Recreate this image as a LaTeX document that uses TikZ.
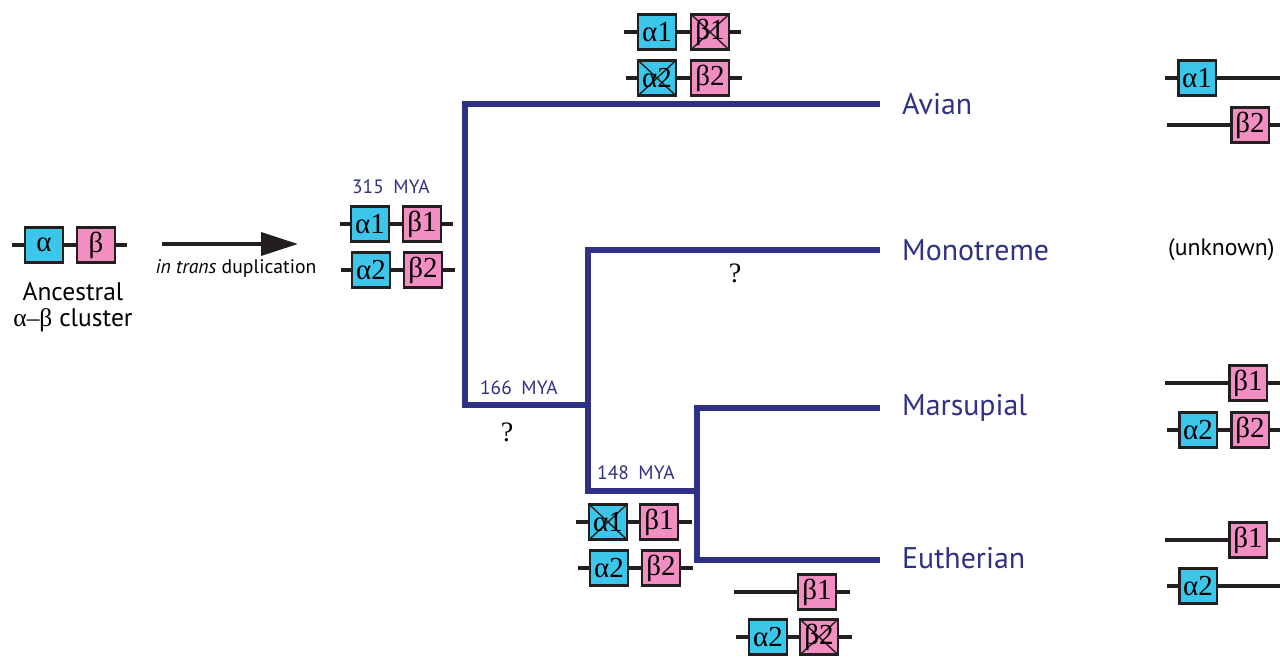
\documentclass[tikz,border=0pt]{standalone}
\usepackage{fontspec}
\setmainfont{PT Sans}
\newfontfamily\grk{Liberation Serif}
\usetikzlibrary{arrows.meta}
\definecolor{navy}{HTML}{2E3184}
\definecolor{alphab}{HTML}{3CC6EA}
\definecolor{betab}{HTML}{F28EC1}
\definecolor{linie}{HTML}{231F20}
\tikzset{
  ast/.style={navy,line width=3.9pt,line join=miter},
  chrom/.style={linie,line width=2.3pt},
  gena/.style={draw=linie,fill=alphab,line width=1.4pt,minimum width=0.75cm,
    minimum height=0.7cm,inner sep=0pt,font=\grk\fontsize{16.5}{16.5}\selectfont},
  genb/.style={gena,fill=betab},
  weg/.style={path picture={\draw[linie,line width=0.8pt]
    (path picture bounding box.south west) -- (path picture bounding box.north east)
    (path picture bounding box.north west) -- (path picture bounding box.south east);}},
  taxon/.style={navy,anchor=west,font=\fontsize{17}{17}\selectfont},
  mya/.style={navy,anchor=west,font=\fontsize{11}{11}\selectfont},
  frage/.style={font=\grk\fontsize{16}{16}\selectfont},
  pfeil/.style={-{Triangle[length=21pt,width=13pt]},linie,line width=2.3pt},
}

\begin{document}
\begin{tikzpicture}[x=0.02cm,y=-0.02cm]
  \useasboundingbox (0,0) rectangle (1280,656);
  % --- Vorfahr ---
  \node[gena] (anc-a) at (44,245) {α};
  \node[genb] (anc-b) at (96,245) {β};
  \coordinate (anc-l) at (12,245);
  \coordinate (anc-r) at (127,245);
  \draw[chrom] (anc-l) -- (anc-a) (anc-a) -- (anc-b) (anc-b) -- (anc-r);
  \node[align=center,font=\fontsize{14.5}{14.5}\selectfont] (anc-t) at (73,307)
    {Ancestral\\{\grk α–β} cluster};
  % --- Duplikation ---
  \coordinate (dup-s) at (162,244);
  \coordinate (dup-e) at (298,244);
  \draw[pfeil] (dup-s) -- (dup-e);
  \node[font=\fontsize{11.2}{11.2}\selectfont] (dup-t) at (236,268) {\textit{in trans} duplication};
  % --- 315 MYA ---
  \node[mya] (t315) at (346,187) {315\enspace MYA};
  \node[gena] (d-a1) at (370,224) {α1};
  \node[genb] (d-b1) at (422,224) {β1};
  \coordinate (d-l1) at (340,224);
  \coordinate (d-r1) at (453,224);
  \draw[chrom] (d-l1) -- (d-a1) (d-a1) -- (d-b1) (d-b1) -- (d-r1);
  \node[gena] (d-a2) at (371,270) {α2};
  \node[genb] (d-b2) at (423,270) {β2};
  \coordinate (d-l2) at (341,270);
  \coordinate (d-r2) at (455,270);
  \draw[chrom] (d-l2) -- (d-a2) (d-a2) -- (d-b2) (d-b2) -- (d-r2);
  % --- Baum ---
  \coordinate (t-av) at (880,104);
  \coordinate (t-mo) at (880,250);
  \coordinate (t-ma) at (880,408);
  \coordinate (t-eu) at (880,560);
  \coordinate (w1) at (465,405);
  \coordinate (w2) at (588,405);
  \coordinate (w3) at (588,491);
  \coordinate (w4) at (697,491);
  \draw[ast] (t-av) -| (w1) -- (w2);
  \draw[ast] (t-mo) -| (w3) -- (w4);
  \draw[ast] (t-ma) -| (w4) |- (t-eu);
  \node[taxon] (avian) at (896,104) {Avian};
  \node[taxon] (mono) at (896,250) {Monotreme};
  \node[taxon] (mars) at (896,408) {Marsupial};
  \node[taxon] (euth) at (896,558) {Eutherian};
  \node[mya] (t166) at (474,388) {166\enspace MYA};
  \node[mya] (t148) at (591,473) {148\enspace MYA};
  \node[frage] (q1) at (507,432) {?};
  \node[frage] (q2) at (735,273) {?};
  % --- Avian ---
  \node[gena] (av-a1) at (657,32) {α1};
  \node[genb,weg] (av-b1) at (710,32) {β1};
  \coordinate (av-l1) at (624,32);
  \coordinate (av-r1) at (741,32);
  \draw[chrom] (av-l1) -- (av-a1) (av-a1) -- (av-b1) (av-b1) -- (av-r1);
  \node[gena,weg] (av-a2) at (657,78) {α2};
  \node[genb] (av-b2) at (710,78) {β2};
  \coordinate (av-l2) at (626,78);
  \coordinate (av-r2) at (742,78);
  \draw[chrom] (av-l2) -- (av-a2) (av-a2) -- (av-b2) (av-b2) -- (av-r2);
  % --- 148 MYA ---
  \node[gena,weg] (th-a1) at (608,522) {α1};
  \node[genb] (th-b1) at (659,522) {β1};
  \coordinate (th-l1) at (576,522);
  \coordinate (th-r1) at (692,522);
  \draw[chrom] (th-l1) -- (th-a1) (th-a1) -- (th-b1) (th-b1) -- (th-r1);
  \node[gena] (th-a2) at (609,568) {α2};
  \node[genb] (th-b2) at (661,568) {β2};
  \coordinate (th-l2) at (578,568);
  \coordinate (th-r2) at (693,568);
  \draw[chrom] (th-l2) -- (th-a2) (th-a2) -- (th-b2) (th-b2) -- (th-r2);
  % --- Eutherian ---
  \node[genb] (eu-b1) at (817,592) {β1};
  \coordinate (eu-l1) at (734,592);
  \coordinate (eu-r1) at (850,592);
  \draw[chrom] (eu-l1) -- (eu-b1) (eu-b1) -- (eu-r1);
  \node[gena] (eu-a2) at (768,637) {α2};
  \node[genb,weg] (eu-b2) at (819,637) {β2};
  \coordinate (eu-l2) at (736,637);
  \coordinate (eu-r2) at (852,637);
  \draw[chrom] (eu-l2) -- (eu-a2) (eu-a2) -- (eu-b2) (eu-b2) -- (eu-r2);
  % --- heute ---
  \node[gena] (hav-a1) at (1197,78) {α1};
  \coordinate (hav-l1) at (1165,78);
  \coordinate (hav-r1) at (1280,78);
  \draw[chrom] (hav-l1) -- (hav-a1) (hav-a1) -- (hav-r1);
  \node[genb] (hav-b2) at (1250,125) {β2};
  \coordinate (hav-l2) at (1167,125);
  \coordinate (hav-r2) at (1280,125);
  \draw[chrom] (hav-l2) -- (hav-b2) (hav-b2) -- (hav-r2);
  \node[anchor=west,font=\fontsize{13.5}{13.5}\selectfont] (unbek) at (1162,250) {(unknown)};
  \node[genb] (hma-b1) at (1248,383) {β1};
  \coordinate (hma-l1) at (1165,383);
  \coordinate (hma-r1) at (1280,383);
  \draw[chrom] (hma-l1) -- (hma-b1) (hma-b1) -- (hma-r1);
  \node[gena] (hma-a2) at (1198,430) {α2};
  \node[genb] (hma-b2) at (1250,430) {β2};
  \coordinate (hma-l2) at (1167,430);
  \coordinate (hma-r2) at (1280,430);
  \draw[chrom] (hma-l2) -- (hma-a2) (hma-a2) -- (hma-b2) (hma-b2) -- (hma-r2);
  \node[genb] (heu-b1) at (1248,540) {β1};
  \coordinate (heu-l1) at (1165,540);
  \coordinate (heu-r1) at (1280,540);
  \draw[chrom] (heu-l1) -- (heu-b1) (heu-b1) -- (heu-r1);
  \node[gena] (heu-a2) at (1198,586) {α2};
  \coordinate (heu-l2) at (1167,586);
  \coordinate (heu-r2) at (1280,586);
  \draw[chrom] (heu-l2) -- (heu-a2) (heu-a2) -- (heu-r2);
\end{tikzpicture}
\end{document}
